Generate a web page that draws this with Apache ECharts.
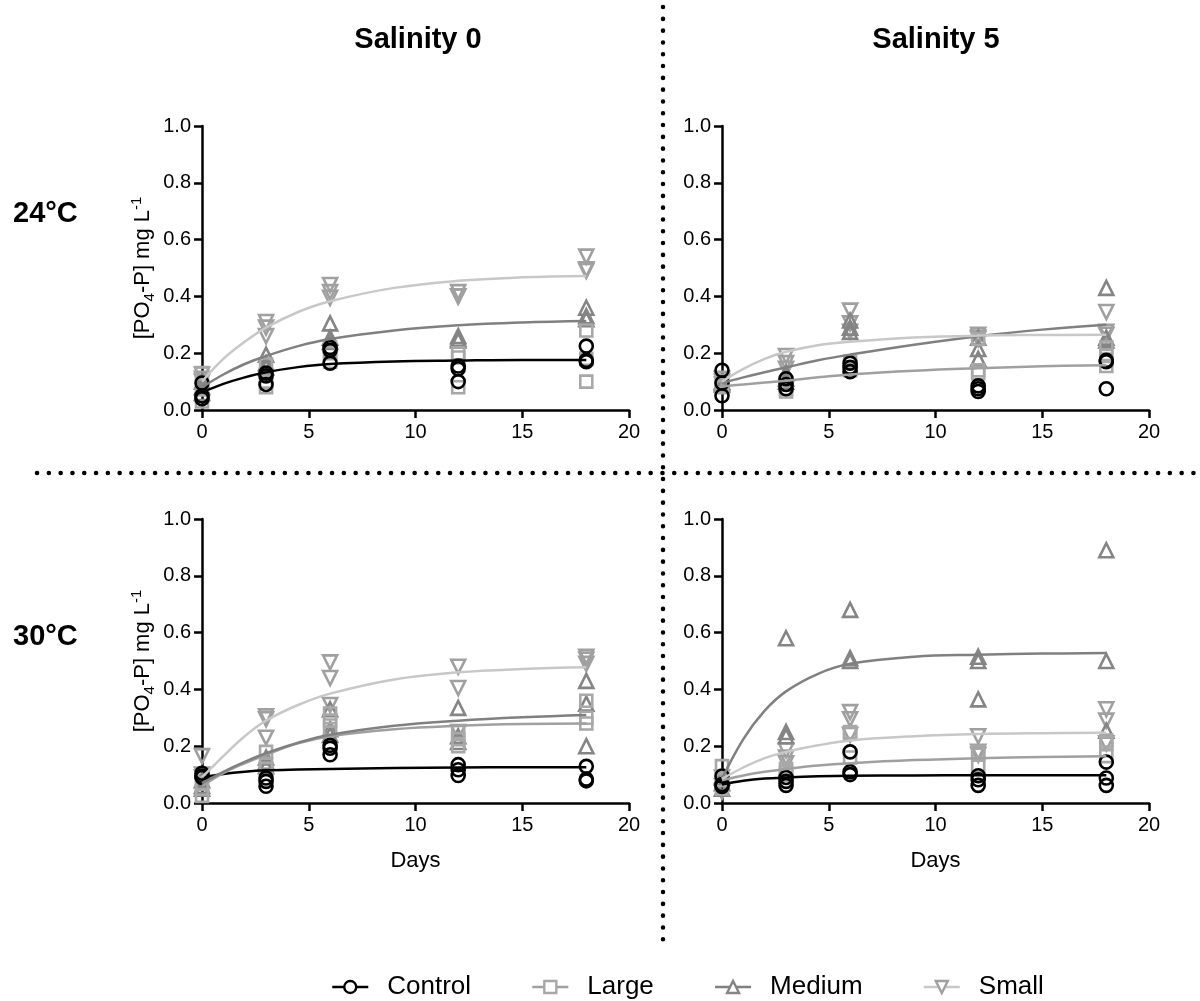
<!DOCTYPE html>
<html>
<head>
<meta charset="utf-8">
<script src="https://cdn.jsdelivr.net/npm/echarts@6/dist/echarts.min.js"></script>
<style>
  html, body { margin: 0; padding: 0; background: #fff; }
  #chart { width: 1200px; height: 1001px; }
</style>
</head>
<body>
<div id="chart"></div>
<script>
// sampling days and the days the fitted curves are read at
const days = [0, 3, 6, 12, 18]
const fitDays = [0, 1, 2, 3, 4.5, 6, 9, 12, 15, 18]
const groups = ['Control', 'Large', 'Medium', 'Small']
const colTitles = ['Salinity 0', 'Salinity 5']
const rowTitles = ['24°C', '30°C']

// replicate values per sampling day, [PO4-P] mg/L
// 24°C, salinity 0
const t24s0Control = [[0.095, 0.05, 0.04], [0.13, 0.12, 0.09], [0.22, 0.21, 0.165], [0.155, 0.145, 0.10], [0.225, 0.175, 0.17]]
const t24s0Large = [[0.13, 0.05, 0.03], [0.16, 0.10, 0.08], [0.22, 0.20, 0.17], [0.20, 0.185, 0.08], [0.28, 0.18, 0.10]]
const t24s0Medium = [[0.10, 0.08, 0.06], [0.195, 0.165, 0.15], [0.305, 0.255, 0.24], [0.26, 0.25, 0.245], [0.36, 0.33, 0.32]]
const t24s0Small = [[0.125, 0.11, 0.10], [0.31, 0.29, 0.26], [0.44, 0.415, 0.395], [0.415, 0.40, 0.40], [0.54, 0.495, 0.49]]
// 24°C, salinity 5
const t24s5Control = [[0.14, 0.095, 0.05], [0.11, 0.09, 0.075], [0.165, 0.15, 0.135], [0.085, 0.075, 0.065], [0.175, 0.17, 0.075]]
const t24s5Large = [[0.10, 0.09, 0.08], [0.09, 0.075, 0.065], [0.17, 0.15, 0.14], [0.14, 0.13, 0.25], [0.22, 0.19, 0.155]]
const t24s5Medium = [[0.10, 0.095, 0.09], [0.13, 0.11, 0.10], [0.315, 0.29, 0.275], [0.255, 0.215, 0.18], [0.43, 0.255, 0.245]]
const t24s5Small = [[0.11, 0.10, 0.09], [0.19, 0.165, 0.145], [0.35, 0.305, 0.275], [0.265, 0.255, 0.25], [0.345, 0.275, 0.265]]
// 30°C, salinity 0
const t30s0Control = [[0.105, 0.095, 0.09], [0.088, 0.076, 0.059], [0.203, 0.193, 0.17], [0.135, 0.117, 0.097], [0.129, 0.084, 0.078]]
const t30s0Large = [[0.07, 0.05, 0.025], [0.18, 0.135, 0.12], [0.315, 0.29, 0.26], [0.25, 0.225, 0.20], [0.36, 0.30, 0.28]]
const t30s0Medium = [[0.08, 0.06, 0.05], [0.16, 0.145, 0.13], [0.33, 0.26, 0.24], [0.335, 0.235, 0.215], [0.43, 0.35, 0.20]]
const t30s0Small = [[0.165, 0.10, 0.09], [0.305, 0.295, 0.23], [0.495, 0.44, 0.345], [0.48, 0.405, 0.25], [0.515, 0.505, 0.49]]
// 30°C, salinity 5
const t30s5Control = [[0.095, 0.065, 0.058], [0.09, 0.076, 0.062], [0.18, 0.11, 0.10], [0.096, 0.082, 0.062], [0.144, 0.088, 0.062]]
const t30s5Large = [[0.13, 0.08, 0.05], [0.12, 0.11, 0.10], [0.25, 0.245, 0.16], [0.18, 0.17, 0.13], [0.22, 0.21, 0.165]]
const t30s5Medium = [[0.09, 0.07, 0.05], [0.58, 0.25, 0.235], [0.68, 0.51, 0.50], [0.515, 0.50, 0.365], [0.89, 0.50, 0.255]]
const t30s5Small = [[0.09, 0.06, 0.04], [0.185, 0.16, 0.14], [0.32, 0.295, 0.24], [0.235, 0.18, 0.17], [0.33, 0.29, 0.21]]

// fitted curves at fitDays (null = no curve drawn)
const fit24s0 = [
  [0.062, 0.092, 0.115, 0.133, 0.151, 0.162, 0.171, 0.174, 0.176, 0.176],
  null,
  [0.08, 0.125, 0.162, 0.19, 0.225, 0.25, 0.28, 0.298, 0.308, 0.313],
  [0.10, 0.18, 0.24, 0.29, 0.345, 0.383, 0.43, 0.455, 0.467, 0.472]
]
const fit24s5 = [
  null,
  [0.083, 0.09, 0.097, 0.103, 0.115, 0.125, 0.138, 0.147, 0.154, 0.158],
  [0.095, 0.115, 0.133, 0.15, 0.175, 0.195, 0.23, 0.26, 0.283, 0.30],
  [0.10, 0.145, 0.18, 0.205, 0.228, 0.24, 0.255, 0.262, 0.264, 0.265]
]
const fit30s0 = [
  [0.09, 0.102, 0.11, 0.115, 0.118, 0.12, 0.123, 0.125, 0.126, 0.126],
  [0.06, 0.105, 0.14, 0.17, 0.21, 0.235, 0.26, 0.272, 0.278, 0.28],
  [0.07, 0.11, 0.145, 0.175, 0.212, 0.24, 0.272, 0.29, 0.302, 0.31],
  [0.09, 0.165, 0.235, 0.29, 0.345, 0.385, 0.435, 0.46, 0.472, 0.478]
]
const fit30s5 = [
  [0.065, 0.078, 0.086, 0.09, 0.094, 0.096, 0.097, 0.098, 0.098, 0.098],
  [0.08, 0.097, 0.11, 0.12, 0.132, 0.14, 0.151, 0.158, 0.162, 0.165],
  [0.085, 0.225, 0.325, 0.393, 0.455, 0.49, 0.515, 0.522, 0.526, 0.528],
  [0.085, 0.125, 0.158, 0.18, 0.203, 0.22, 0.235, 0.243, 0.246, 0.247]
]

const panels = [
  { points: [t24s0Control, t24s0Large, t24s0Medium, t24s0Small], fits: fit24s0 },
  { points: [t24s5Control, t24s5Large, t24s5Medium, t24s5Small], fits: fit24s5 },
  { points: [t30s0Control, t30s0Large, t30s0Medium, t30s0Small], fits: fit30s0 },
  { points: [t30s5Control, t30s5Large, t30s5Medium, t30s5Small], fits: fit30s5 }
]

const font = "'Liberation Sans', Arial, Helvetica, sans-serif"
const markColor = ['#000000', '#a8a8a8', '#858585', '#a0a0a0']
const lineColor = ['#000000', '#a0a0a0', '#808080', '#c8c8c8']
const symbols = ['circle', 'rect', 'triangle', 'triangle']
const symbolSizes = [13, 12, 14, 14]
const symbolRotates = [0, 0, 0, 180]

const gridPos = [
  { left: 202, top: 126 }, { left: 722, top: 126 },
  { left: 202, top: 519 }, { left: 722, top: 519 }
]

const axisLine = { show: true, onZero: false, lineStyle: { color: '#000', width: 2.5 } }
const axisTick = { show: true, length: 8, lineStyle: { color: '#000', width: 2.5 } }

const xAxes = gridPos.map((g, i) => ({
  gridIndex: i,
  type: 'value',
  min: 0, max: 20, interval: 5,
  axisLine, axisTick,
  splitLine: { show: false },
  axisLabel: { fontSize: 20, color: '#000', margin: 12, fontFamily: font },
  name: i >= 2 ? 'Days' : '',
  nameLocation: 'middle',
  nameGap: 47,
  nameTextStyle: { fontSize: 22, color: '#000', fontFamily: font }
}))

const yAxes = gridPos.map((g, i) => ({
  gridIndex: i,
  type: 'value',
  min: 0, max: 1, interval: 0.2,
  axisLine, axisTick,
  splitLine: { show: false },
  axisLabel: { fontSize: 20, color: '#000', margin: 11, fontFamily: font, formatter: v => v.toFixed(1) },
  name: i % 2 === 0 ? '{a|[PO}{sub|4}{a|-P] mg L}{sup|-1}' : '',
  nameLocation: 'middle',
  nameRotate: 90,
  nameGap: 45,
  nameTextStyle: {
    color: '#000', fontFamily: font,
    rich: {
      a: { fontSize: 22, lineHeight: 28, verticalAlign: 'middle', fontFamily: font, color: '#000' },
      sub: { fontSize: 15, lineHeight: 15, verticalAlign: 'bottom', fontFamily: font, color: '#000' },
      sup: { fontSize: 15, lineHeight: 15, verticalAlign: 'top', fontFamily: font, color: '#000' }
    }
  }
}))

const lineSeries = []
const scatterSeries = []
panels.forEach((p, pi) => {
  groups.forEach((name, gi) => {
    const fit = p.fits[gi]
    if (fit) {
      lineSeries.push({
        name,
        type: 'line',
        xAxisIndex: pi, yAxisIndex: pi,
        smooth: 0.4,
        showSymbol: false,
        symbol: symbols[gi],
        symbolRotate: symbolRotates[gi],
        itemStyle: { color: '#fff', borderColor: markColor[gi], borderWidth: 2 },
        lineStyle: { color: lineColor[gi], width: 2.5 },
        data: fitDays.map((d, k) => [d, fit[k]]),
        silent: true
      })
    }
    scatterSeries.push({
      name,
      type: 'scatter',
      xAxisIndex: pi, yAxisIndex: pi,
      symbol: symbols[gi],
      symbolSize: symbolSizes[gi],
      symbolRotate: symbolRotates[gi],
      itemStyle: { color: 'rgba(255,255,255,0)', borderColor: markColor[gi], borderWidth: 2.6, opacity: 1 },
      data: days.flatMap((d, k) => p.points[gi][k].map(v => [d, v])),
      silent: true
    })
  })
})
// draw small/medium markers first so control sits on top
scatterSeries.sort((a, b) => groups.indexOf(b.name) - groups.indexOf(a.name))

const dotted = { stroke: '#000', lineWidth: 4.5, lineDash: [0.1, 11.7], lineCap: 'round' }
const titleStyle = { fontSize: 29, fontWeight: 'bold', fill: '#000', fontFamily: font }

const chart = echarts.init(document.getElementById('chart'))
chart.setOption({
  animation: false,
  backgroundColor: '#fff',
  textStyle: { fontFamily: font },
  grid: gridPos.map(g => ({ left: g.left, top: g.top, width: 427, height: 284 })),
  xAxis: xAxes,
  yAxis: yAxes,
  legend: {
    left: 326,
    top: 969,
    itemWidth: 36,
    itemHeight: 15,
    itemGap: 60,
    selectedMode: false,
    textStyle: { fontSize: 26, color: '#000', fontFamily: font, padding: [0, 0, 0, 14] },
    data: groups.map((g, i) => ({
      name: g,
      itemStyle: { color: '#fff', borderColor: markColor[i], borderWidth: 2.4 },
      lineStyle: { color: lineColor[i], width: 2.5 }
    }))
  },
  graphic: [
    { type: 'line', shape: { x1: 663, y1: 7, x2: 663, y2: 943 }, style: dotted, silent: true },
    { type: 'line', shape: { x1: 37, y1: 473, x2: 1197, y2: 473 }, style: dotted, silent: true },
    { type: 'text', x: 418, y: 40, style: Object.assign({ text: colTitles[0], align: 'center', verticalAlign: 'middle' }, titleStyle) },
    { type: 'text', x: 936, y: 40, style: Object.assign({ text: colTitles[1], align: 'center', verticalAlign: 'middle' }, titleStyle) },
    { type: 'text', x: 13, y: 214, style: Object.assign({ text: rowTitles[0], align: 'left', verticalAlign: 'middle' }, titleStyle) },
    { type: 'text', x: 13, y: 637, style: Object.assign({ text: rowTitles[1], align: 'left', verticalAlign: 'middle' }, titleStyle) }
  ],
  series: lineSeries.concat(scatterSeries)
})
</script>
</body>
</html>
